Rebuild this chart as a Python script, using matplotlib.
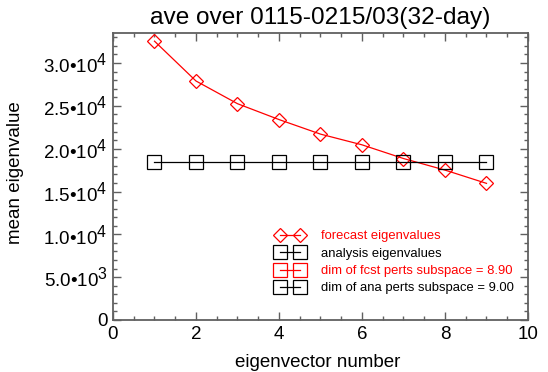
import matplotlib
matplotlib.use("Agg")
import matplotlib.pyplot as plt
import matplotlib as mpl
from matplotlib.ticker import FixedLocator, MultipleLocator, FuncFormatter

mpl.rcParams["font.family"] = ["Liberation Sans", "DejaVu Sans"]
mpl.rcParams["mathtext.fontset"] = "custom"
mpl.rcParams["mathtext.rm"] = "Liberation Sans"
try:
    # IDL draws the exponents almost full size
    import matplotlib._mathtext as _mt
    _mt.SHRINK_FACTOR = 0.85
except Exception:
    pass

# data
eig_num = [1, 2, 3, 4, 5, 6, 7, 8, 9]
fcst_eig = [32550, 27900, 25250, 23400, 21700, 20450, 18850, 17500, 15950]
ana_eig = [18420] * 9
fcst_dim = 8.90
ana_dim = 9.00

TITLE = "ave over 0115-0215/03(32-day)"
Y_TICKS = [0, 5000, 10000, 15000, 20000, 25000, 30000]


def sci(v, pos):
    if v == 0:
        return "0"
    e = len(str(int(v))) - 1
    m = v / 10 ** e
    return r"%.1f•10$^{%d}$" % (m, e)


fig = plt.figure(figsize=(5.48, 3.72), dpi=100)
ax = fig.add_axes([0.2062, 0.1398, 0.7573, 0.7707])

RED = "#ff0000"
ax.plot(eig_num, fcst_eig, color=RED, lw=0.9, marker="D", ms=6.8,
        mfc="none", mec=RED, mew=0.9, label="forecast eigenvalues")
ax.plot(eig_num, ana_eig, color="black", lw=0.9, marker="s", ms=10,
        mfc="none", mec="black", mew=0.9, label="analysis eigenvalues")
# handles for the subspace dimension entries
ax.plot([], [], color=RED, lw=0.9, marker="s", ms=10, mfc="none", mec=RED, mew=0.9,
        label="dim of fcst perts subspace = %.2f" % fcst_dim)
ax.plot([], [], color="black", lw=0.9, marker="s", ms=10, mfc="none", mec="black", mew=0.9,
        label="dim of ana perts subspace = %.2f" % ana_dim)

ax.set_xlim(0, 10)
ax.set_ylim(0, 33470)
ax.xaxis.set_major_locator(MultipleLocator(2))
ax.xaxis.set_minor_locator(MultipleLocator(0.5))
ax.yaxis.set_major_locator(FixedLocator(Y_TICKS))
ax.yaxis.set_minor_locator(MultipleLocator(1000))
ax.yaxis.set_major_formatter(FuncFormatter(sci))

for s in ax.spines.values():
    s.set_color("#606060")
    s.set_linewidth(1.3)
ax.tick_params(which="both", direction="in", top=True, right=True, color="#606060",
               labelsize=13.5, width=1.0)
ax.tick_params(which="major", length=6, pad=4)
ax.tick_params(which="minor", length=3)

ax.set_title(TITLE, fontsize=17.6, pad=6.7)
ax.set_xlabel("eigenvector number", fontsize=13.5)
ax.set_ylabel("mean eigenvalue", fontsize=13.5)
ax.xaxis.set_label_coords(0.494, -0.12)
ax.yaxis.set_label_coords(-0.215, 0.514)

leg = ax.legend(loc="center left", bbox_to_anchor=(0.392, 0.201), frameon=False, numpoints=2,
                fontsize=9.4, handlelength=2.13, handletextpad=1.33, labelspacing=0.4,
                borderpad=0, borderaxespad=0)
for txt, c in zip(leg.get_texts(), [RED, "black", RED, "black"]):
    txt.set_color(c)

fig.savefig("out.png", dpi=100, facecolor="white")
